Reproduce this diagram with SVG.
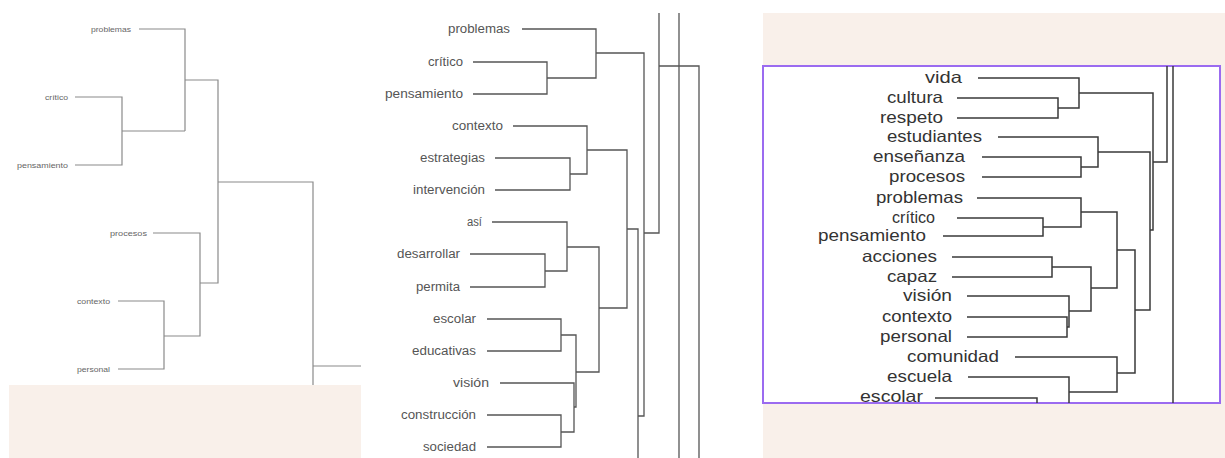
<svg xmlns="http://www.w3.org/2000/svg" width="1225" height="458" viewBox="0 0 1225 458">
<style>
  .bg{fill:#f9f0ea}
  .l{fill:none;stroke:#8a8a8a;stroke-width:1.2}
  .m{fill:none;stroke:#555;stroke-width:1.3}
  .r{fill:none;stroke:#3a3a3a;stroke-width:1.5}
  .tl{font-family:"Liberation Sans",Arial,sans-serif;font-size:7.5px;fill:#666}
  .tm{font-family:"Liberation Sans",Arial,sans-serif;font-size:12px;fill:#555}
  .tr{font-family:"Liberation Sans",Arial,sans-serif;font-size:16.5px;fill:#333}
</style>
<rect width="1225" height="458" fill="#ffffff"/>
<rect class="bg" x="9" y="385" width="352" height="73"/>
<rect class="bg" x="763" y="13" width="462" height="445"/>
<rect x="763" y="66" width="457" height="337" fill="#ffffff" stroke="#9b6bf0" stroke-width="2"/>

<g id="left-labels">
  <g id="l-problemas"><text class="tl" x="91" y="31.5" textLength="40" lengthAdjust="spacingAndGlyphs">problemas</text></g>
  <g id="l-critico"><text class="tl" x="45" y="99.5" textLength="23" lengthAdjust="spacingAndGlyphs">crítico</text></g>
  <g id="l-pensamiento"><text class="tl" x="17" y="167.5" textLength="51" lengthAdjust="spacingAndGlyphs">pensamiento</text></g>
  <g id="l-procesos"><text class="tl" x="110" y="235.5" textLength="37" lengthAdjust="spacingAndGlyphs">procesos</text></g>
  <g id="l-contexto"><text class="tl" x="77" y="303.5" textLength="33" lengthAdjust="spacingAndGlyphs">contexto</text></g>
  <g id="l-personal"><text class="tl" x="77" y="371.5" textLength="33" lengthAdjust="spacingAndGlyphs">personal</text></g>
</g>

<g id="middle-labels">
  <g id="m-problemas"><text class="tm" x="448" y="33" textLength="62" lengthAdjust="spacingAndGlyphs">problemas</text></g>
  <g id="m-critico"><text class="tm" x="428" y="66" textLength="35" lengthAdjust="spacingAndGlyphs">crítico</text></g>
  <g id="m-pensamiento"><text class="tm" x="385" y="98" textLength="78" lengthAdjust="spacingAndGlyphs">pensamiento</text></g>
  <g id="m-contexto"><text class="tm" x="452" y="130" textLength="51" lengthAdjust="spacingAndGlyphs">contexto</text></g>
  <g id="m-estrategias"><text class="tm" x="420" y="162" textLength="65" lengthAdjust="spacingAndGlyphs">estrategias</text></g>
  <g id="m-intervencion"><text class="tm" x="413" y="194" textLength="72" lengthAdjust="spacingAndGlyphs">intervención</text></g>
  <g id="m-asi"><text class="tm" x="467" y="226" textLength="15" lengthAdjust="spacingAndGlyphs">así</text></g>
  <g id="m-desarrollar"><text class="tm" x="397" y="258" textLength="63" lengthAdjust="spacingAndGlyphs">desarrollar</text></g>
  <g id="m-permita"><text class="tm" x="416" y="291" textLength="44" lengthAdjust="spacingAndGlyphs">permita</text></g>
  <g id="m-escolar"><text class="tm" x="433" y="323" textLength="43" lengthAdjust="spacingAndGlyphs">escolar</text></g>
  <g id="m-educativas"><text class="tm" x="412" y="355" textLength="64" lengthAdjust="spacingAndGlyphs">educativas</text></g>
  <g id="m-vision"><text class="tm" x="453" y="387" textLength="36" lengthAdjust="spacingAndGlyphs">visión</text></g>
  <g id="m-construccion"><text class="tm" x="401" y="419" textLength="75" lengthAdjust="spacingAndGlyphs">construcción</text></g>
  <g id="m-sociedad"><text class="tm" x="423" y="451" textLength="53" lengthAdjust="spacingAndGlyphs">sociedad</text></g>
</g>

<g id="right-labels">
  <g id="r-vida"><text class="tr" x="925" y="83" textLength="37" lengthAdjust="spacingAndGlyphs">vida</text></g>
  <g id="r-cultura"><text class="tr" x="887" y="103" textLength="56" lengthAdjust="spacingAndGlyphs">cultura</text></g>
  <g id="r-respeto"><text class="tr" x="880" y="123" textLength="63" lengthAdjust="spacingAndGlyphs">respeto</text></g>
  <g id="r-estudiantes"><text class="tr" x="887" y="142" textLength="95" lengthAdjust="spacingAndGlyphs">estudiantes</text></g>
  <g id="r-ensenanza"><text class="tr" x="873" y="162" textLength="92" lengthAdjust="spacingAndGlyphs">enseñanza</text></g>
  <g id="r-procesos"><text class="tr" x="889" y="182" textLength="76" lengthAdjust="spacingAndGlyphs">procesos</text></g>
  <g id="r-problemas"><text class="tr" x="876" y="203" textLength="87" lengthAdjust="spacingAndGlyphs">problemas</text></g>
  <g id="r-critico"><text class="tr" x="892" y="223" textLength="43" lengthAdjust="spacingAndGlyphs">crítico</text></g>
  <g id="r-pensamiento"><text class="tr" x="818" y="241" textLength="108" lengthAdjust="spacingAndGlyphs">pensamiento</text></g>
  <g id="r-acciones"><text class="tr" x="862" y="262" textLength="75" lengthAdjust="spacingAndGlyphs">acciones</text></g>
  <g id="r-capaz"><text class="tr" x="887" y="282" textLength="50" lengthAdjust="spacingAndGlyphs">capaz</text></g>
  <g id="r-vision"><text class="tr" x="903" y="301" textLength="49" lengthAdjust="spacingAndGlyphs">visión</text></g>
  <g id="r-contexto"><text class="tr" x="882" y="322" textLength="70" lengthAdjust="spacingAndGlyphs">contexto</text></g>
  <g id="r-personal"><text class="tr" x="880" y="342" textLength="72" lengthAdjust="spacingAndGlyphs">personal</text></g>
  <g id="r-comunidad"><text class="tr" x="907" y="362" textLength="92" lengthAdjust="spacingAndGlyphs">comunidad</text></g>
  <g id="r-escuela"><text class="tr" x="887" y="382" textLength="65" lengthAdjust="spacingAndGlyphs">escuela</text></g>
  <g id="r-escolar"><text class="tr" x="860" y="402" textLength="63" lengthAdjust="spacingAndGlyphs">escolar</text></g>
</g>

<g id="connectors">
  <g id="left-tree">
    <path class="l" d="M139,29H185V131"/>
    <path class="l" d="M75,97H122V165H75"/>
    <path class="l" d="M122,131H185"/>
    <path class="l" d="M185,80H218V283H200"/>
    <path class="l" d="M218,182H313V385"/>
    <path class="l" d="M153,233H200V336H164"/>
    <path class="l" d="M118,301H164V369H118"/>
    <path class="l" d="M313,366H361"/>
  </g>
  <g id="middle-tree">
    <path class="m" d="M522,29H596V78H547"/>
    <path class="m" d="M473,62H547V94H473"/>
    <path class="m" d="M596,53H644V416H638"/>
    <path class="m" d="M513,126H587V174H570"/>
    <path class="m" d="M495,158H570V190H495"/>
    <path class="m" d="M587,150H627V308H599"/>
    <path class="m" d="M627,229H638V458"/>
    <path class="m" d="M492,222H567V271H545"/>
    <path class="m" d="M470,254H545V287H470"/>
    <path class="m" d="M567,247H599V372H576"/>
    <path class="m" d="M487,319H561V351H487"/>
    <path class="m" d="M561,335H576V407H574"/>
    <path class="m" d="M500,383H574V432H561"/>
    <path class="m" d="M487,415H561V447H487"/>
    <path class="m" d="M644,233H659V13"/>
    <path class="m" d="M659,66H699V458"/>
    <path class="m" d="M679,13V458"/>
  </g>
  <g id="right-tree">
    <path class="r" d="M978,78H1079V108H1058"/>
    <path class="r" d="M957,98H1058V118H957"/>
    <path class="r" d="M1079,93H1153V230H1150"/>
    <path class="r" d="M1153,162H1167V66"/>
    <path class="r" d="M1173,66V403"/>
    <path class="r" d="M998,137H1098V167H1081"/>
    <path class="r" d="M982,157H1081V177H982"/>
    <path class="r" d="M1098,152H1150V310H1135"/>
    <path class="r" d="M977,198H1081V227H1043"/>
    <path class="r" d="M957,218H1043V236H943"/>
    <path class="r" d="M1081,212H1117V288H1091"/>
    <path class="r" d="M1117,250H1135V373H1117"/>
    <path class="r" d="M952,257H1052V277H952"/>
    <path class="r" d="M1052,267H1091V311H1069"/>
    <path class="r" d="M967,296H1069V327H1067"/>
    <path class="r" d="M967,317H1067V337H967"/>
    <path class="r" d="M1015,357H1117V392H1069"/>
    <path class="r" d="M968,377H1069V403"/>
    <path class="r" d="M935,398H1037V403"/>
  </g>
</g>
</svg>
